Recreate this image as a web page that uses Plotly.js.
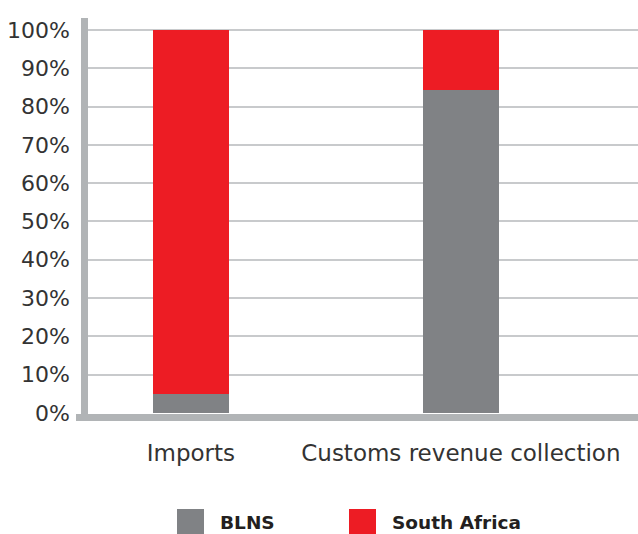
<!DOCTYPE html>
<html>
<head>
<meta charset="utf-8">
<script src="https://cdn.plot.ly/plotly-3.0.1.min.js"></script>
<style>html,body{margin:0;padding:0;background:#fff;}#chart{width:638px;height:534px;}</style>
</head>
<body>
<div id="chart"></div>
<script>
const categories = ["Imports", "Customs revenue collection"];
const seriesNames = ["BLNS", "South Africa"];
const blnsValues = [5, 84.3];
const southAfricaValues = [95, 15.7];
const yTickValues = [0, 10, 20, 30, 40, 50, 60, 70, 80, 90, 100];
const yTickLabels = ["0%", "10%", "20%", "30%", "40%", "50%", "60%", "70%", "80%", "90%", "100%"];

const colors = ["#808285", "#ED1C24"];
const fontFamily = "DejaVu Sans, sans-serif";

const traces = [
  {type: "bar", name: seriesNames[0], x: categories, y: blnsValues, marker: {color: colors[0]}, width: 0.28, showlegend: false, hoverinfo: "skip"},
  {type: "bar", name: seriesNames[1], x: categories, y: southAfricaValues, marker: {color: colors[1]}, width: 0.28, showlegend: false, hoverinfo: "skip"}
];

const plotH = 395, plotW = 550;
const legendX = [[177, 204, 218], [349, 376, 390]];
const shapes = [
  {type: "line", xref: "paper", yref: "paper", x0: -3.5/plotW, x1: -3.5/plotW, y0: -1/plotH, y1: 1, line: {color: "#B1B4B6", width: 7}, layer: "above"},
  {type: "line", xref: "paper", yref: "paper", x0: -12/plotW, x1: 1, y0: -4.5/plotH, y1: -4.5/plotH, line: {color: "#B1B4B6", width: 7}, layer: "above"}
];
const annotations = [];
seriesNames.forEach((n, i) => {
  const [a, b, t] = legendX[i];
  shapes.push({type: "rect", xref: "paper", yref: "paper", x0: (a-88)/plotW, x1: (b-88)/plotW, y0: (413-509)/plotH, y1: (413-536)/plotH, fillcolor: colors[i], line: {width: 0}});
  annotations.push({xref: "paper", yref: "paper", x: (t-88)/plotW, y: (413-522)/plotH, xanchor: "left", yanchor: "middle", text: "<b>" + n + "</b>", showarrow: false, font: {family: fontFamily, size: 18.5, color: "#231F20"}});
});

const layout = {
  width: 638, height: 534,
  margin: {l: 88, r: 0, t: 18, b: 121, pad: 0},
  paper_bgcolor: "#fff", plot_bgcolor: "#fff",
  barmode: "stack",
  showlegend: false,
  xaxis: {
    type: "category", range: [-0.381, 1.656], showgrid: false, zeroline: false, showline: false, ticks: "",
    ticklabelstandoff: 24,
    tickfont: {family: fontFamily, size: 23, color: "#333"}
  },
  yaxis: {
    range: [0, 103.1], tickvals: yTickValues, ticktext: yTickLabels, showgrid: true, gridcolor: "#C8CACC", gridwidth: 2,
    zeroline: false, showline: false, ticks: "", ticklabelstandoff: 17,
    tickfont: {family: fontFamily, size: 22, color: "#333"}
  },
  shapes: shapes,
  annotations: annotations
};

Plotly.newPlot("chart", traces, layout, {staticPlot: true, displayModeBar: false});
</script>
</body>
</html>
